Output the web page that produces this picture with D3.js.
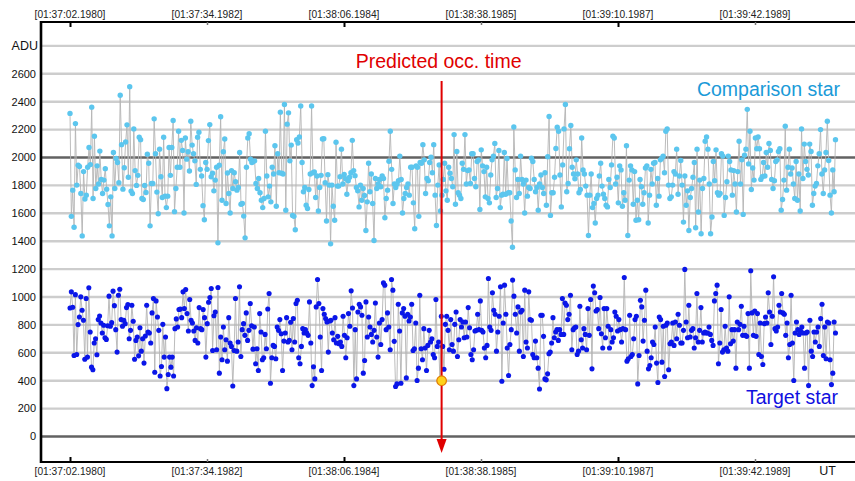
<!DOCTYPE html>
<html><head><meta charset="utf-8">
<script src="https://cdn.jsdelivr.net/npm/d3@7"></script>
<style>body{margin:0;background:#fff}svg{display:block}</style>
</head><body>
<svg id="c" width="855" height="481"></svg>
<script>
// ---- data ----
const timeTickSeconds = [0, 32.0002, 64.0004, 96.0005, 128.0007, 160.0009];
const timeTickLabels = ["[01:37:02.1980]","[01:37:34.1982]","[01:38:06.1984]","[01:38:38.1985]","[01:39:10.1987]","[01:39:42.1989]"];
const seriesStartSec = 0;
const seriesEndSec = 178.8;
const yTickValues = [0,200,400,600,800,1000,1200,1400,1600,1800,2000,2200,2400,2600];
const yUnitLabel = "ADU";
const predictedOccSec = 86.8;
const flaggedValue = 400;
const comparisonStar = [
2316,1578,1766,1500,2243,1802,1944,1935,1742,1438,1899,1703,1730,1930,2072,1949,2361,1706,2152,1778,1940,1810,2046,1843,1742,1838,1920,1773,1663,1510,1718,1438,2036,1778,1993,1964,1819,2446,2092,1773,1927,2111,2234,1858,2508,1759,1742,2205,1906,1800,1872,2145,2128,1706,1699,1800,1749,2024,1959,1510,1814,1814,2277,2027,1752,1597,2060,1862,1713,2145,1723,1641,1723,2072,1872,2072,2265,1612,1778,1930,2188,1930,2123,2051,1602,2140,1988,2041,1903,2260,2089,2027,1976,1807,2145,2181,1915,1867,1655,1554,1964,1915,2121,2236,1862,1887,1761,1838,1930,1388,1944,2292,1694,2041,2133,1670,1889,1742,1602,1906,1778,
1891,1826,1766,1785,2036,1665,1670,1580,1424,1930,2140,2171,1988,1964,1971,1976,1814,1778,1850,1747,1694,1641,1706,2188,1867,1718,1795,1682,1930,1882,2084,1651,2027,1891,2325,1887,1882,2380,1622,2239,2320,1976,2089,1585,1578,1482,2128,2104,2147,2369,1964,1754,1785,1658,1634,1771,1882,2369,1891,1896,1713,1867,1617,1785,1872,2133,2135,1819,1545,1877,1802,1381,1802,1651,1550,2109,1795,1795,1862,2060,1810,1879,1848,1737,1833,1858,1891,2123,1906,1870,1785,1761,1646,1802,1694,1778,1728,1477,1682,1959,1754,1882,1670,1405,1850,1778,1810,1843,1790,1867,1850,1568,1706,1766,1973,2188,1915,1670,1810,1785,1810,1833,2010,1843,1602,1706,1742,1785,1810,1730,1930,1930,1675,1489,1940,1930,1578,1964,1959,2092,1983,1742,1850,1833,1964,2002,1891,2092,1730,
1513,1802,1947,1617,1730,1843,1959,1761,1694,1930,1887,1850,1790,2164,1665,2043,1747,1730,1706,1959,1915,2164,1810,1906,1911,1814,2027,2027,1850,1790,1971,1983,1627,2055,1940,1899,1718,1930,1706,1675,1875,1983,2010,2101,1713,1778,2051,1641,1730,1737,2036,1737,1993,1747,1747,1545,1357,2219,1911,1713,1843,1742,2010,1843,1810,1602,1838,1723,1785,1778,1995,1971,1843,1754,1785,1622,1810,1875,1785,1742,1891,1658,2005,2294,1585,1747,1747,1858,2065,2217,2188,1875,1646,1947,2205,2380,1754,1814,2063,2229,1930,1882,1848,1983,1882,1747,1771,2140,1911,1882,1795,1730,1441,1730,1882,1641,1670,1530,1706,1730,1867,1959,1795,1737,1706,1658,1646,1843,1785,1947,2152,2140,1810,1858,1675,1940,1911,1651,1747,1694,2084,1441,1838,1940,1911,1665,1899,1550,
1694,1554,1843,1790,1665,1747,1925,1940,1530,1730,1915,1810,1959,1964,1658,1850,1723,1983,1995,2010,1891,2188,2205,1802,1706,1718,1802,1899,1882,2060,1737,1867,1978,1802,1537,1867,1658,1761,1477,1713,1778,1858,1964,1496,2060,1609,1838,1453,1778,1850,2116,2147,2060,1810,1453,1573,1971,1833,2055,1747,1730,1742,2027,2010,1585,1713,1826,2010,1971,1911,1730,1906,1810,1609,1899,2116,1810,1983,1592,2017,2060,2345,1954,2188,1771,1925,1838,2140,2063,2147,2063,1843,1862,1964,1867,2036,1930,2101,2051,1843,1778,1833,1971,1983,2043,2063,1622,1699,1838,2224,1766,1930,2060,1882,1925,1810,1706,1971,1694,1882,1617,2205,1850,2096,1971,1915,1875,2096,2043,1658,1742,1795,1814,1940,2027,2200,1882,1742,1911,2036,2260,1978,1730,1602,1911,1754,2128];
const targetStar = [
921,1037,926,581,1017,588,802,857,1001,905,833,554,989,569,1066,749,497,478,670,701,586,838,864,814,742,797,708,696,794,1006,790,816,1042,938,766,605,1013,1056,838,790,833,809,924,946,701,761,941,826,554,689,713,578,780,612,701,526,720,941,749,742,670,886,989,461,972,857,761,434,502,804,569,713,343,444,569,497,569,434,773,843,785,910,914,852,1037,917,1054,881,756,982,833,814,756,689,780,670,924,773,766,910,852,569,809,962,996,1061,617,866,893,622,1068,454,713,550,785,622,694,540,852,670,646,362,617,989,612,677,
1073,574,766,809,725,886,689,761,953,794,626,785,521,629,473,881,749,550,564,732,629,914,1025,382,564,653,646,557,785,761,838,737,473,684,742,852,677,689,819,622,845,677,953,977,564,521,646,773,742,766,742,725,965,670,365,500,413,929,1125,953,713,473,917,876,845,821,605,828,833,742,694,852,670,718,665,677,646,862,725,564,708,881,790,1044,921,365,766,413,893,948,929,869,454,545,965,713,857,785,732,677,761,957,713,569,814,660,838,1101,1085,766,886,785,622,1125,1049,682,358,377,948,756,382,886,917,862,420,876,828,857,948,617,629,814,401,490,1013,629,550,773,634,473,653,761,677,701,588,564,982,646,677,
396,862,646,482,804,862,761,622,838,660,612,804,893,574,694,838,785,821,708,821,713,924,780,588,550,622,756,761,876,766,972,761,749,634,564,653,1133,785,761,1030,905,876,612,749,862,1073,396,814,1085,876,634,437,660,766,1121,1006,876,742,929,612,893,905,574,1049,677,634,1037,838,833,588,564,684,564,490,341,869,869,718,413,406,449,593,605,670,852,708,749,766,689,766,732,989,732,957,941,838,876,1013,622,766,780,785,588,612,934,694,634,773,732,622,917,725,982,485,1078,1030,900,910,773,996,737,634,917,708,917,790,634,766,677,708,893,862,756,838,766,677,773,1140,766,540,557,869,574,588,701,838,862,377,
581,977,929,684,833,1049,612,485,509,564,677,660,785,526,387,857,838,533,790,430,797,814,478,665,677,814,653,821,701,876,797,670,670,761,1198,821,708,941,713,761,773,634,708,1025,677,761,924,677,742,749,742,742,785,732,689,653,972,1025,1085,521,670,910,605,622,790,634,612,1001,665,766,684,766,490,821,766,804,934,725,790,725,718,881,490,1188,886,725,900,718,881,588,814,574,516,809,857,814,1030,893,660,862,1145,773,756,785,941,893,1025,886,876,725,814,564,660,1013,670,401,742,821,766,732,756,785,742,490,742,749,365,833,612,574,749,677,749,785,646,845,948,581,785,557,821,814,550,372,454,821,742];

// ---- layout ----
const W = 855, H = 481;
const L = 41, T = 22, B = 462, R = 855;
const svg = d3.select("#c");
svg.append("rect").attr("width",W).attr("height",H).attr("fill","#fff");

const x = d3.scaleLinear().domain([0,160.0009]).range([70,755]);
const y = d3.scaleLinear().domain([0,2000]).range([436.5,157.5]);
const font = "'Liberation Sans', Arial, sans-serif";

// gridlines
const gridVals = yTickValues.concat([2800]);
svg.append("g").selectAll("line").data(gridVals).join("line")
  .attr("x1",L).attr("x2",R)
  .attr("y1",d=>y(d)).attr("y2",d=>y(d))
  .attr("stroke",d=>(d===0||d===2000)?"#626262":"#cdcdcd")
  .attr("stroke-width",2.4);

// y labels
svg.append("g").selectAll("text").data(yTickValues).join("text")
  .attr("x",36).attr("y",d=>y(d)).attr("dy","0.35em")
  .attr("text-anchor","end").attr("font-family",font).attr("font-size",11)
  .attr("fill","#111").text(d=>d);
svg.append("text").attr("x",38).attr("y",y(2800)).attr("dy","0.36em")
  .attr("text-anchor","end").attr("font-family",font).attr("font-size",12.5)
  .attr("fill","#111").text(yUnitLabel);

// series
function series(data, color, r){
  const step = (seriesEndSec - seriesStartSec)/(data.length-1);
  const pts = data.map((v,i)=>[x(seriesStartSec + i*step), y(v)]);
  const g = svg.append("g");
  g.append("path").attr("d", d3.line()(pts)).attr("fill","none")
    .attr("stroke","#b4b4b4").attr("stroke-width",0.9);
  g.selectAll("circle").data(pts).join("circle")
    .attr("cx",d=>d[0]).attr("cy",d=>d[1]).attr("r",r).attr("fill",color);
}
series(comparisonStar, "#5cc6ee", 2.7);
series(targetStar, "#0a16e8", 2.55);

// frame
svg.append("line").attr("x1",L-1).attr("x2",R).attr("y1",T).attr("y2",T).attr("stroke","#000").attr("stroke-width",1.8);
svg.append("line").attr("x1",L-1).attr("x2",R).attr("y1",B).attr("y2",B).attr("stroke","#000").attr("stroke-width",1.8);
svg.append("line").attr("x1",L).attr("x2",L).attr("y1",T-1).attr("y2",B+1).attr("stroke","#000").attr("stroke-width",2.6);

// time ticks & labels
timeTickSeconds.forEach((s,i)=>{
  const major = i%2===0;
  const xx = Math.round(x(s))+0.5;
  const len = major?5:3;
  const col = major?"#000":"#777";
  const w = major?2:1.5;
  svg.append("line").attr("x1",xx).attr("x2",xx).attr("y1",T).attr("y2",T+len).attr("stroke",col).attr("stroke-width",w);
  svg.append("line").attr("x1",xx).attr("x2",xx).attr("y1",B).attr("y2",B-len).attr("stroke",col).attr("stroke-width",w);
  [14,471].forEach(yy=>{
    svg.append("text").attr("x",x(s)).attr("y",yy).attr("dy","0.35em")
      .attr("text-anchor","middle").attr("font-family",font).attr("font-size",10.2)
      .attr("fill","#222").text(timeTickLabels[i]);
  });
});
svg.append("text").attr("x",836).attr("y",471).attr("dy","0.35em")
  .attr("text-anchor","end").attr("font-family",font).attr("font-size",12.5)
  .attr("fill","#111").text("UT");

// series labels
svg.append("text").attr("x",840).attr("y",89).attr("dy","0.35em")
  .attr("text-anchor","end").attr("font-family",font).attr("font-size",19.5)
  .attr("fill","#1a9ad8").text("Comparison star");
svg.append("text").attr("x",838).attr("y",397).attr("dy","0.35em")
  .attr("text-anchor","end").attr("font-family",font).attr("font-size",19.5)
  .attr("fill","#1010e0").text("Target star");

// predicted occultation time
const ox = x(predictedOccSec);
svg.append("text").attr("x",ox-3).attr("y",61).attr("dy","0.35em")
  .attr("text-anchor","middle").attr("font-family",font).attr("font-size",19.5)
  .attr("fill","#e00000").text("Predicted occ. time");
svg.append("line").attr("x1",ox).attr("x2",ox).attr("y1",81).attr("y2",442)
  .attr("stroke","#e00000").attr("stroke-width",2);
svg.append("path").attr("d",`M${ox-5},439 L${ox+5},439 L${ox},453 Z`).attr("fill","#e00000");
svg.append("circle").attr("cx",ox).attr("cy",y(flaggedValue)).attr("r",4.8)
  .attr("fill","#ffd21a").attr("stroke","#e07a00").attr("stroke-width",1.2);
</script>
</body></html>
